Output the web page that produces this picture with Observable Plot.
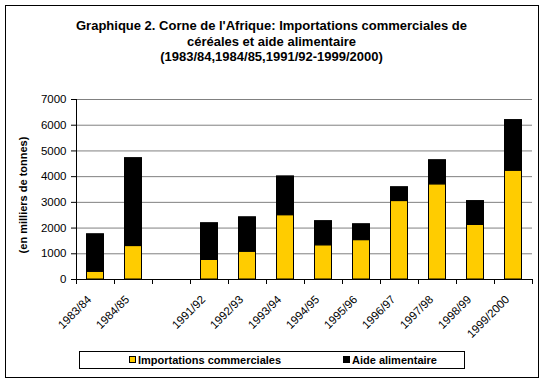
<!DOCTYPE html>
<html>
<head>
<meta charset="utf-8">
<script src="https://cdn.jsdelivr.net/npm/d3@7"></script>
<script src="https://cdn.jsdelivr.net/npm/@observablehq/plot@0.6"></script>
<style>
  html, body { margin: 0; padding: 0; background: #fff; }
  #wrap { position: relative; width: 544px; height: 383px; font-family: "Liberation Sans", Arial, sans-serif; overflow: hidden; }
  #frame { position: absolute; left: 5px; top: 5px; width: 534px; height: 373px; box-sizing: border-box; border: 1px solid #000; }
  #title { position: absolute; left: 0; top: 18px; width: 543px; text-align: center; font-weight: bold; font-size: 13px; line-height: 15.5px; color: #000; }
  #ylabel { position: absolute; left: 23px; top: 195px; transform: translate(-50%, -50%) rotate(-90deg); white-space: nowrap; font-weight: bold; font-size: 11px; }
  #legend { position: absolute; left: 79px; top: 351px; width: 386px; height: 18px; box-sizing: border-box; border: 1px solid #000; }
  .item { position: absolute; top: 0; font-weight: bold; font-size: 11px; line-height: 16px; white-space: nowrap; }
  .sw { position: absolute; top: 4px; width: 7px; height: 7px; box-sizing: border-box; border: 1px solid #000; }
  #chart { position: absolute; left: 0; top: 0; }
</style>
</head>
<body>
<div id="wrap">
  <div id="frame"></div>
  <div id="chart"></div>
  <div id="title">Graphique 2. Corne de l'Afrique: Importations commerciales de<br>céréales et aide alimentaire<br>(1983/84,1984/85,1991/92-1999/2000)</div>
  <div id="ylabel">(en milliers de tonnes)</div>
  <div id="legend"></div>
</div>
<script>
const categories = ["1983/84","1984/85","1991/92","1992/93","1993/94","1994/95","1995/96","1996/97","1997/98","1998/99","1999/2000"];
const imports = [300,1300,760,1080,2500,1330,1530,3050,3700,2120,4230];
const aid = [1460,3420,1430,1340,1510,940,620,540,940,930,1970];
const seriesNames = ["Importations commerciales","Aide alimentaire"];
const seriesColors = ["#FFCC00","#000000"];
const yTicks = [0,1000,2000,3000,4000,5000,6000,7000];

// x domain with an empty slot between 1984/85 and 1991/92
const xDomain = [categories[0], categories[1], "", ...categories.slice(2)];

const rows = [];
categories.forEach((c, i) => {
  rows.push({cat: c, series: seriesNames[0], value: imports[i]});
  rows.push({cat: c, series: seriesNames[1], value: aid[i]});
});

const W = 544, H = 383, mL = 76, mR = 12, mT = 99, mB = 104;
const step = (W - mL - mR) / xDomain.length;

const chart = Plot.plot({
  width: W, height: H,
  marginLeft: mL, marginRight: mR, marginTop: mT, marginBottom: mB,
  style: {fontFamily: '"Liberation Sans", Arial, sans-serif', fontSize: "11.5px", background: "transparent", color: "#000"},
  x: {domain: xDomain, padding: 0, axis: null},
  y: {domain: [0, 7000], ticks: yTicks, tickSize: 5, tickPadding: 5, tickFormat: d3.format("d"), label: null},
  color: {domain: seriesNames, range: seriesColors},
  marks: [
    Plot.ruleY(yTicks.slice(1), {stroke: "#808080", strokeWidth: 1}),
    Plot.barY(rows, Plot.stackY({x: "cat", y: "value", fill: "series", stroke: "#000", strokeWidth: 1, insetLeft: 10.5, insetRight: 10.5})),
    Plot.tickX([xDomain[0]], {x: d => d, dx: -step / 2, stroke: "#000"}),
    Plot.ruleY([0], {stroke: "#000"}),
    Plot.tickX(xDomain, {x: d => d, dx: -step / 2, insetTop: H - mT - mB, insetBottom: -5, stroke: "#000"}),
    Plot.tickX([xDomain[xDomain.length - 1]], {x: d => d, dx: step / 2, insetTop: H - mT - mB, insetBottom: -5, stroke: "#000"}),
    Plot.text(categories, {x: d => d, text: d => d, frameAnchor: "bottom", rotate: -45, textAnchor: "end", lineAnchor: "middle", dx: -6, dy: 18, fontSize: 11.5, fill: "#000"})
  ]
});
document.getElementById("chart").appendChild(chart);

// legend
const legend = document.getElementById("legend");
const legendX = [49, 263];
seriesNames.forEach((name, i) => {
  const sw = document.createElement("div");
  sw.className = "sw";
  sw.style.left = legendX[i] + "px";
  sw.style.background = seriesColors[i];
  legend.appendChild(sw);
  const t = document.createElement("div");
  t.className = "item";
  t.style.left = (legendX[i] + 9) + "px";
  t.textContent = name;
  legend.appendChild(t);
});
</script>
</body>
</html>
